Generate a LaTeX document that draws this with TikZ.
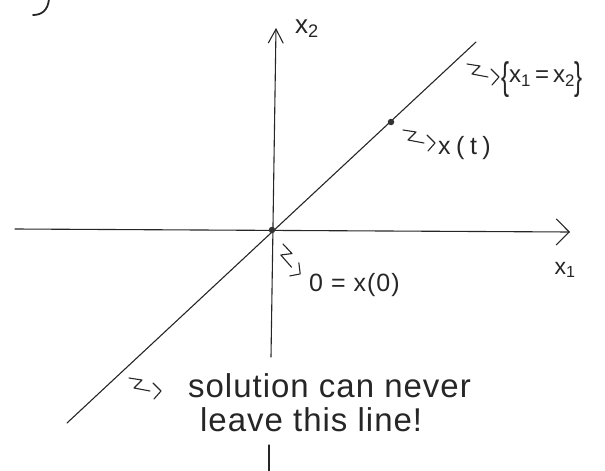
\documentclass[tikz,border=0pt]{standalone}
\usepackage{fontspec}
\usepackage{graphicx}
\setmainfont{Liberation Sans}
\usetikzlibrary{arrows.meta}
\tikzset{
  hand/.style={line width=1.1pt, black!85, line cap=round, line join=round},
  lbl/.style={inner sep=0pt, text=black!85},
  dotnode/.style={circle, fill=black!80, inner sep=0pt, minimum size=6.5pt},
  squig/.pic={
    \draw[hand] (0,0) -- (13,2) -- (5,10) -- (21,13);
    \draw[hand] (24,5) -- (32,13) -- (25,21);
  }
}
\newcommand{\tallbrace}[1]{\raisebox{-7pt}{\scalebox{1}[1.6]{#1}}}
\begin{document}
\begin{tikzpicture}[x=1pt,y=-1pt]
\useasboundingbox (0,0) rectangle (605,471);
% fragment at top left
\draw[line width=1.8pt, black!85, line cap=round] (49,-1) .. controls (48,10) and (42,15) .. (33,15);
% axes
\coordinate (O) at (272,230);
\coordinate (xstart) at (15,229);
\coordinate (xend) at (570,232);
\coordinate (ybot) at (271,357);
\coordinate (ytop) at (276,28);
\coordinate (ytail1) at (269,445);
\coordinate (ytail2) at (269,471);
\draw[hand, -{Straight Barb[length=13pt,width=26pt,line width=1.1pt]}] (xstart) -- (xend);
\draw[hand, -{Straight Barb[length=14pt,width=15pt,line width=1.1pt]}] (ybot) -- (ytop);
\draw[hand] (ytail1) -- (ytail2);
% diagonal line
\coordinate (lbot) at (67,423);
\coordinate (ltop) at (476,42);
\draw[hand] (lbot) -- (ltop);
% dots
\node[dotnode] (d0) at (O) {};
\node[dotnode] (dt) at (391,122) {};
% axis labels
\node[lbl, font=\fontsize{26}{26}\selectfont] (x2) at (307,29) {x\textsubscript{2}};
\node[lbl, font=\fontsize{23}{23}\selectfont] (x1) at (565,270) {x\textsubscript{1}};
% annotations
\pic at (467,64) {squig};
\node[lbl, font=\fontsize{24}{24}\selectfont, anchor=west] (set) at (501,80)
  {\tallbrace{\{}x\textsubscript{1}\,=\,x\textsubscript{2}\tallbrace{\}}};
\pic at (403,130) {squig};
\node[lbl, font=\fontsize{25}{25}\selectfont\addfontfeature{LetterSpace=22}, anchor=west] (xt) at (438,148) {x(t)};
\pic[rotate=-38] at (283,244) {squig};
\node[lbl, font=\fontsize{25}{25}\selectfont\addfontfeature{LetterSpace=4}, anchor=west] (x0) at (309,285) {0 = x(0)};
\pic at (129,378) {squig};
\node[lbl, font=\fontsize{33}{33}\selectfont\addfontfeature{LetterSpace=3}, anchor=west] (sol1) at (188,386) {solution can never};
\node[lbl, font=\fontsize{33}{33}\selectfont\addfontfeature{LetterSpace=3}, anchor=west] (sol2) at (200,420) {leave this line!};
\end{tikzpicture}
\end{document}
